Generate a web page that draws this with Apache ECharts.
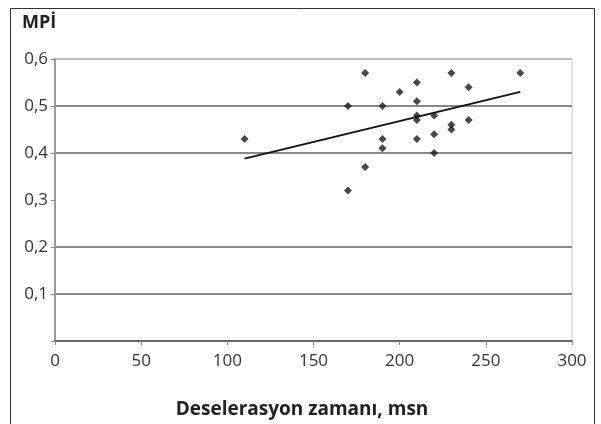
<!DOCTYPE html>
<html>
<head>
<meta charset="utf-8">
<script src="https://cdn.jsdelivr.net/npm/echarts@6/dist/echarts.min.js"></script>
<style>
  html, body { margin: 0; padding: 0; background: #fff; }
  #chart { width: 601px; height: 424px; }
</style>
</head>
<body>
<div id="chart"></div>
<script>
// deceleration time (msn) vs MPI
const decelTime = [110, 170, 170, 180, 180, 190, 190, 190, 200, 210, 210, 210, 210, 210, 220, 220, 220, 230, 230, 230, 240, 240, 270];
const mpi = [0.43, 0.32, 0.50, 0.57, 0.37, 0.50, 0.43, 0.41, 0.53, 0.55, 0.51, 0.48, 0.47, 0.43, 0.48, 0.44, 0.40, 0.57, 0.46, 0.45, 0.54, 0.47, 0.57];
// trend line end points
const trendX = [110, 270];
const trendY = [0.388, 0.530];

const points = decelTime.map((x, i) => [x, mpi[i]]);
const trend = trendX.map((x, i) => [x, trendY[i]]);

const font = '"Open Sans", "Noto Sans", sans-serif';
const chart = echarts.init(document.getElementById('chart'));

chart.setOption({
  animation: false,
  textStyle: { fontFamily: font },
  graphic: [
    {
      type: 'rect',
      shape: { x: 10.5, y: 8.5, width: 584, height: 430 },
      style: { fill: 'none', stroke: '#333', lineWidth: 1 }
    },
    {
      type: 'text',
      x: 22, y: 23,
      style: { text: 'MPİ', font: 'bold 18px ' + font, fill: '#222', verticalAlign: 'middle' }
    },
    {
      type: 'text',
      x: 302, y: 410,
      style: {
        text: 'Deselerasyon zamanı, msn', font: 'bold 19px ' + font, fill: '#222',
        align: 'center', verticalAlign: 'middle'
      }
    }
  ],
  grid: {
    left: 55, top: 59, width: 517, height: 282,
    show: true, borderColor: '#c4c4c4', borderWidth: 1
  },
  xAxis: {
    type: 'value',
    min: 0, max: 300, interval: 50,
    axisLine: { show: true, onZero: false, lineStyle: { color: '#666', width: 2 } },
    axisTick: { show: true, length: 4, lineStyle: { color: '#888' } },
    axisLabel: { color: '#333', fontSize: 17, margin: 12, fontFamily: font },
    splitLine: { show: false }
  },
  yAxis: {
    type: 'value',
    min: 0, max: 0.6, interval: 0.1,
    axisLine: { show: true, onZero: false, lineStyle: { color: '#999', width: 2 } },
    axisTick: { show: true, length: 4, lineStyle: { color: '#888' } },
    axisLabel: {
      color: '#333', fontSize: 17, margin: 7, fontFamily: font,
      formatter: v => v === 0 ? '' : v.toFixed(1).replace('.', ',')
    },
    splitLine: {
      show: true,
      lineStyle: {
        width: 2,
        color: ['rgba(0,0,0,0)', '#888', '#888', 'rgba(0,0,0,0)', '#888', '#888', '#bbb']
      }
    }
  },
  series: [
    {
      type: 'scatter',
      data: points,
      symbol: 'diamond',
      symbolSize: 8,
      itemStyle: { color: '#1a1a1a' },
      z: 3
    },
    {
      type: 'line',
      data: trend,
      showSymbol: false,
      lineStyle: { color: '#111', width: 2 },
      z: 4
    }
  ]
});
</script>
</body>
</html>
